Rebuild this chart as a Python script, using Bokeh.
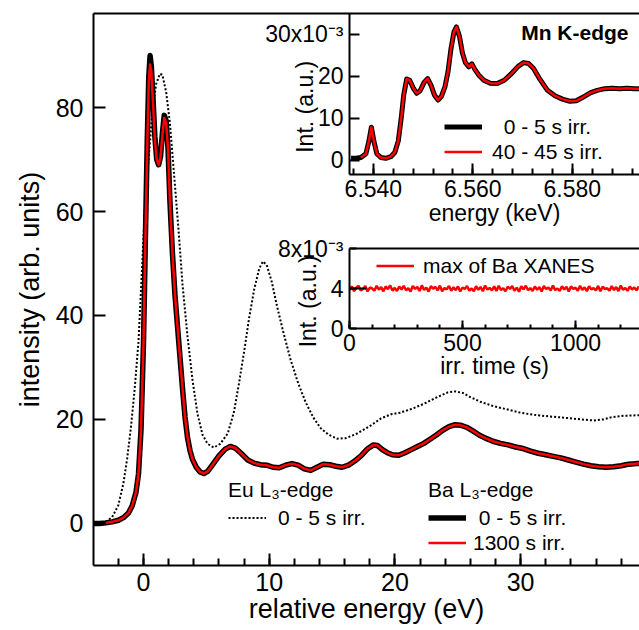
from bokeh.plotting import figure
from bokeh.models import (LinearAxis, SingleIntervalTicker, FixedTicker, Legend,
                          LegendItem, Label, NumeralTickFormatter)
from bokeh.layouts import column
from bokeh.embed import file_html
from bokeh.resources import INLINE

FONT = "Liberation Sans"
RED = "#ff0000"
NBSP = "\u00a0"

# ---- Ba L3-edge XANES (relative energy, eV) ----
ba_energy = [-4.0, -3.5, -3.0, -2.5, -2.0, -1.6, -1.2, -0.9, -0.6, -0.4,
             -0.2, 0.0, 0.15, 0.3, 0.42, 0.52, 0.62, 0.75, 0.9, 1.05,
             1.2, 1.35, 1.5, 1.65, 1.8, 1.95, 2.1, 2.3, 2.5, 2.7,
             2.9, 3.1, 3.3, 3.5, 3.7, 3.9, 4.2, 4.5, 4.8, 5.1,
             5.5, 6.0, 6.5, 6.9, 7.3, 7.8, 8.3, 8.8, 9.3, 9.8,
             10.3, 10.8, 11.3, 11.8, 12.3, 12.8, 13.3, 13.8, 14.3, 14.8,
             15.3, 15.8, 16.3, 16.8, 17.3, 17.8, 18.3, 18.6, 19.0, 19.4,
             19.8, 20.3, 20.8, 21.3, 21.8, 22.3, 22.8, 23.3, 23.8, 24.3,
             24.8, 25.2, 25.7, 26.2, 26.7, 27.2, 27.8, 28.4, 29.0, 29.6,
             30.2, 30.8, 31.4, 32.0, 32.6, 33.2, 33.8, 34.4, 35.0, 35.6,
             36.2, 36.8, 37.4, 38.0, 38.6, 39.2, 39.8]
ba_0_5 = [0.0, 0.0, 0.1, 0.3, 0.6, 1.1, 2.0, 3.4, 6.0, 9.5,
          18.0, 35.0, 55.0, 74.0, 86.0, 90.0, 88.0, 82.0, 74.5, 70.0,
          69.0, 70.5, 75.0, 78.5, 77.5, 72.0, 62.0, 52.0, 44.0, 38.0,
          32.0, 26.0, 20.5, 16.5, 14.0, 12.3, 10.8, 9.9, 9.6, 10.0,
          11.3, 13.0, 14.3, 14.8, 14.5, 13.4, 12.2, 11.6, 11.3, 11.2,
          10.8, 10.7, 11.2, 11.5, 11.2, 10.5, 10.2, 10.8, 11.4, 11.3,
          11.0, 10.8, 11.2, 12.0, 13.0, 14.3, 15.1, 15.0, 14.2, 13.6,
          13.2, 13.1, 13.6, 14.2, 14.8, 15.4, 16.2, 17.0, 17.9, 18.6,
          19.0, 18.9, 18.5, 17.8, 17.0, 16.4, 15.8, 15.4, 15.1, 14.7,
          14.4, 13.9, 13.5, 13.2, 12.9, 12.6, 12.2, 11.8, 11.4, 11.1,
          10.9, 10.8, 10.9, 11.1, 11.4, 11.5, 11.5]
ba_1300_energy = ba_energy[2:]
ba_1300 = [0.1, 0.3, 0.6, 1.1, 2.0, 3.4, 6.0, 9.5,
           18.0, 35.0, 55.0, 73.0, 85.0, 88.3, 87.0, 81.0, 74.0, 70.0,
           69.0, 70.5, 74.5, 78.0, 77.0, 72.0, 62.0, 52.0, 44.0, 38.0,
           32.0, 26.0, 20.5, 16.5, 14.0, 12.3, 10.8, 9.9, 9.6, 10.0,
           11.3, 13.0, 14.3, 14.8, 14.5, 13.4, 12.2, 11.6, 11.3, 11.2,
           10.8, 10.7, 11.2, 11.5, 11.2, 10.5, 10.2, 10.8, 11.4, 11.3,
           11.0, 10.8, 11.2, 12.0, 13.0, 14.3, 15.1, 15.0, 14.2, 13.6,
           13.2, 13.1, 13.6, 14.2, 14.8, 15.4, 16.2, 17.0, 17.9, 18.6,
           19.0, 18.9, 18.5, 17.8, 17.0, 16.4, 15.8, 15.4, 15.1, 14.7,
           14.4, 13.9, 13.5, 13.2, 12.9, 12.6, 12.2, 11.8, 11.4, 11.1,
           10.9, 10.8, 10.9, 11.1, 11.4, 11.5, 11.5]

# ---- Eu L3-edge XANES ----
eu_energy = [-3.0, -2.5, -2.0, -1.6, -1.3, -1.0, -0.7, -0.4, -0.1, 0.1,
             0.4, 0.7, 1.0, 1.3, 1.5, 1.8, 2.1, 2.4, 2.8, 3.1,
             3.5, 3.9, 4.3, 4.7, 5.1, 5.6, 6.1, 6.7, 7.2, 7.6,
             8.0, 8.4, 8.8, 9.2, 9.5, 9.8, 10.2, 10.6, 11.1, 11.7,
             12.3, 12.9, 13.5, 14.1, 14.7, 15.4, 16.1, 17.0, 18.0, 18.9,
             19.7, 20.4, 21.3, 22.3, 23.2, 24.2, 24.8, 25.4, 26.0, 26.8,
             27.8, 28.8, 30.0, 31.0, 32.2, 33.2, 34.4, 35.8, 36.6, 37.2,
             38.2, 39.3, 39.8]
eu_0_5 = [0.3, 1.2, 3.5, 7.7, 12.5, 18.5, 26.0, 35.0, 50.0, 60.0,
          70.0, 79.0, 84.5, 86.5, 86.3, 83.0, 77.0, 68.0, 56.0, 46.0,
          36.0, 27.5, 21.0, 17.0, 15.3, 14.6, 15.3, 17.3, 21.5, 27.0,
          33.0, 39.5, 45.0, 49.0, 50.4, 49.7, 46.5, 42.0, 37.0, 31.5,
          27.0, 23.3, 20.4, 18.3, 17.1, 16.3, 16.4, 17.3, 18.7, 20.2,
          21.0, 21.3, 22.0, 23.0, 24.1, 25.2, 25.4, 25.1, 24.3, 23.4,
          22.6, 22.0, 21.3, 20.9, 20.6, 20.4, 20.1, 19.8, 20.0, 20.4,
          20.7, 20.8, 20.8]

# ---- Mn K-edge XANES (keV, intensity in 1e-3 a.u.) ----
mn_energy = [6.5355, 6.5365, 6.5375, 6.5385, 6.5391, 6.5396, 6.5401, 6.5407, 6.5415, 6.5425,
             6.5435, 6.5443, 6.5450, 6.5456, 6.5461, 6.5467, 6.5473, 6.5480, 6.5487, 6.5494,
             6.5502, 6.5509, 6.5516, 6.5523, 6.5530, 6.5537, 6.5544, 6.5550, 6.5556, 6.5562,
             6.5567, 6.5573, 6.5579, 6.5585, 6.5592, 6.5598, 6.5604, 6.5612, 6.5622, 6.5635,
             6.5649, 6.5663, 6.5677, 6.5690, 6.5702, 6.5712, 6.5722, 6.5735, 6.5750, 6.5765,
             6.5780, 6.5795, 6.5808, 6.5822, 6.5836, 6.5850, 6.5865, 6.5880, 6.5895, 6.5910,
             6.5925, 6.5940]
mn_0_5 = [0.4, 0.4, 0.6, 1.5, 4.5, 7.8, 4.5, 1.5, 0.6, 0.4,
          0.8, 1.8, 4.5, 10.0, 15.5, 19.3, 19.0, 17.2, 15.9, 16.5,
          18.5, 19.4, 17.8, 15.4, 14.3, 15.2, 17.5, 21.0, 26.5, 30.5,
          31.7, 29.5, 25.5, 23.2, 22.2, 22.9, 21.6, 20.2, 19.0, 18.3,
          18.2, 19.0, 20.5, 22.2, 23.2, 23.0, 21.8, 19.2, 16.6, 15.3,
          14.5, 14.0, 14.1, 15.0, 16.0, 16.6, 17.0, 17.1, 17.0, 17.1,
          17.0, 17.0]
mn_40_45_energy = mn_energy[2:]
mn_40_45 = [0.6, 1.5, 4.5, 7.8, 4.5, 1.5, 0.6, 0.4,
            0.8, 1.8, 4.5, 10.0, 15.5, 19.3, 19.0, 17.2, 15.9, 16.5,
            18.5, 19.4, 17.8, 15.4, 14.3, 15.2, 17.5, 21.0, 26.5, 30.5,
            31.7, 29.5, 25.5, 23.2, 22.2, 22.9, 21.6, 20.2, 19.0, 18.3,
            18.2, 19.0, 20.5, 22.2, 23.2, 23.0, 21.8, 19.2, 16.6, 15.3,
            14.5, 14.0, 14.1, 15.0, 16.0, 16.6, 17.0, 17.1, 17.0, 17.1,
            17.0, 17.0]

# ---- maximum of the Ba XANES vs irradiation time (1e-3 a.u.) ----
irr_time = list(range(0, 1290, 10))
ba_max = [3.85, 4.22, 3.74, 4.05, 4.28, 3.80, 3.95, 4.25, 3.70, 4.10,
          4.00, 3.78, 4.26, 3.88, 4.14, 3.72, 4.21, 3.93, 4.30, 3.79,
          4.06, 3.75, 4.19, 3.90, 4.27, 3.82, 4.02, 3.71, 4.24, 3.96,
          4.15, 3.76, 4.31, 3.86, 4.09, 3.69, 4.23, 3.98, 4.17, 3.81,
          4.29, 3.73, 4.04, 3.92, 4.26, 3.77, 4.12, 3.84, 4.20, 3.70,
          4.10, 3.94, 4.25, 3.79, 4.00, 3.74, 4.22, 3.87, 4.16, 3.72,
          4.30, 3.89, 4.06, 3.80, 4.21, 3.76, 4.27, 3.86, 4.02, 3.73,
          4.18, 3.96, 4.24, 3.78, 4.08, 3.68, 4.22, 3.92, 4.28, 3.83,
          4.04, 3.75, 4.20, 3.88, 4.14, 3.71, 4.25, 3.94, 4.10, 3.79,
          4.30, 3.84, 4.00, 3.76, 4.23, 3.90, 4.16, 3.70, 4.21, 3.97,
          4.08, 3.77, 4.27, 3.86, 4.12, 3.74, 4.22, 3.92, 4.04, 3.80,
          4.26, 3.72, 4.18, 3.95, 4.02, 3.78, 4.24, 3.84, 4.14, 3.75,
          4.29, 3.88, 4.06, 3.77, 4.20, 3.90, 4.10, 3.82, 4.22]
ba_max_first_time = [0, 25, 50, 75]
ba_max_first = [4.0, 4.0, 4.0, 4.0]

main_xticks = 10
main_yticks = 20


def style_axis(ax, tick_size, major_in, minor_in, standoff):
    ax.axis_line_width = 2
    ax.axis_line_color = "black"
    ax.major_tick_line_width = 2
    ax.minor_tick_line_width = 2
    ax.major_tick_in = major_in
    ax.major_tick_out = 0
    ax.minor_tick_in = minor_in
    ax.minor_tick_out = 0
    ax.major_label_text_font = FONT
    ax.major_label_text_font_size = tick_size
    ax.major_label_text_color = "black"
    ax.major_label_standoff = standoff
    ax.axis_label_text_font = FONT
    ax.axis_label_text_font_style = "normal"
    ax.axis_label_text_color = "black"


def top_line(fig):
    ax = LinearAxis(ticker=FixedTicker(ticks=[]), axis_line_width=2,
                    major_tick_line_color=None, minor_tick_line_color=None)
    fig.add_layout(ax, "above")


def legend(items, x, y, standoff, title=None, size="21px"):
    kw = dict(items=items, location=(x, y), orientation="vertical",
              border_line_color=None, background_fill_alpha=0,
              padding=0, margin=0, spacing=0,
              glyph_width=38, glyph_height=25, label_height=25, label_width=10,
              label_standoff=standoff, label_text_font=FONT,
              label_text_font_size=size, label_text_color="black")
    if title is not None:
        kw.update(title=title, title_text_font=FONT, title_text_font_size=size,
                  title_text_font_style="normal", title_text_color="black",
                  title_standoff=3)
    return Legend(**kw)


BORDER_LEFT = 93

# ================= main panel =================
p = figure(width=639, height=630, x_range=(-3.98, 39.46), y_range=(-8.1, 98.1),
           output_backend="svg", toolbar_location=None,
           min_border_left=BORDER_LEFT, min_border_right=0, min_border_top=13,
           min_border_bottom=65)
p.outline_line_color = None
p.grid.visible = False
p.background_fill_color = "white"
p.border_fill_color = "white"

p.xaxis.ticker = SingleIntervalTicker(interval=main_xticks, num_minor_ticks=5)
p.yaxis.ticker = SingleIntervalTicker(interval=main_yticks, num_minor_ticks=0)
style_axis(p.xaxis[0], "25px", 12, 7, 7)
style_axis(p.yaxis[0], "25px", 12, 0, 10)
p.yaxis.minor_tick_line_color = None
p.xaxis.axis_label = "relative energy (eV)"
p.yaxis.axis_label = "intensity (arb. units)"
p.xaxis.axis_label_text_font_size = "27px"
p.yaxis.axis_label_text_font_size = "27px"
p.xaxis.axis_label_standoff = 0
p.yaxis.axis_label_standoff = 8
top_line(p)

r_ba0 = p.line(ba_energy, ba_0_5, line_color="black", line_width=5.5, line_join="round")
r_eu = p.line(eu_energy, eu_0_5, line_color="black", line_width=2, line_dash="2 2")
r_ba1 = p.line(ba_1300_energy, ba_1300, line_color=RED, line_width=2.5, line_join="round")

p.add_layout(legend([LegendItem(label="0 - 5 s irr.", renderers=[r_eu])],
                    135, 35, 12, title="Eu L\u2083-edge"))
p.add_layout(legend([LegendItem(label=NBSP + "0 - 5 s irr.", renderers=[r_ba0]),
                     LegendItem(label="1300 s irr.", renderers=[r_ba1])],
                    335, 10, 7, title="Ba L\u2083-edge"))

# ================= Mn K-edge inset =================
mn = figure(width=639 - 256, height=234, x_range=(6.5352, 6.5935), y_range=(-3.45, 34.9),
            output_backend="svg", toolbar_location=None,
            min_border_left=BORDER_LEFT, min_border_right=0, min_border_top=13,
            min_border_bottom=60)
mn.outline_line_color = None
mn.grid.visible = False
mn.background_fill_color = None
mn.border_fill_color = None
mn.xaxis.ticker = SingleIntervalTicker(interval=0.02, num_minor_ticks=5)
mn.yaxis.ticker = SingleIntervalTicker(interval=10, num_minor_ticks=0)
mn.xaxis.formatter = NumeralTickFormatter(format="0.000")
mn.yaxis.major_label_overrides = {30: "30x10\u207b\u00b3"}
style_axis(mn.xaxis[0], "23px", 11, 6, 5)
style_axis(mn.yaxis[0], "23px", 10, 0, 6)
mn.yaxis.minor_tick_line_color = None
mn.xaxis.axis_label = "energy (keV)"
mn.xaxis.axis_label_text_font_size = "23px"
mn.xaxis.axis_label_standoff = 0
mn.yaxis.axis_label = "Int. (a.u.)" + NBSP * 4
mn.yaxis.axis_label_text_font_size = "23px"
mn.yaxis.axis_label_standoff = -56

m0 = mn.line(mn_energy, mn_0_5, line_color="black", line_width=5, line_join="round")
m1 = mn.line(mn_40_45_energy, mn_40_45, line_color=RED, line_width=2.5, line_join="round")
mn.add_layout(legend([LegendItem(label=NBSP * 2 + "0 - 5 s irr.", renderers=[m0]),
                      LegendItem(label="40 - 45 s irr.", renderers=[m1])],
                     95, 10, 10))
mn.add_layout(Label(x=279, y=142, x_units="screen", y_units="screen", text="Mn K-edge",
                    text_align="right", text_baseline="middle", text_font=FONT,
                    text_font_size="21px", text_font_style="bold", text_color="black"))
mn.styles = {"position": "absolute", "left": "256px", "top": "0px"}

# ================= Ba maximum vs time inset =================
tm = figure(width=639 - 256, height=160, x_range=(0, 1283), y_range=(0, 8),
            output_backend="svg", toolbar_location=None,
            min_border_left=BORDER_LEFT, min_border_right=0, min_border_top=20,
            min_border_bottom=60)
tm.outline_line_color = None
tm.grid.visible = False
tm.background_fill_color = None
tm.border_fill_color = None
tm.xaxis.ticker = SingleIntervalTicker(interval=500, num_minor_ticks=5)
tm.yaxis.ticker = FixedTicker(ticks=[0, 4, 8])
tm.yaxis.major_label_overrides = {8: "8x10\u207b\u00b3"}
style_axis(tm.xaxis[0], "23px", 8, 4, 5)
style_axis(tm.yaxis[0], "23px", 7, 0, 6)
tm.yaxis.minor_tick_line_color = None
tm.xaxis.axis_label = "irr. time (s)"
tm.xaxis.axis_label_text_font_size = "23px"
tm.xaxis.axis_label_standoff = -1
tm.yaxis.axis_label = "Int. (a.u.)" + NBSP * 4
tm.yaxis.axis_label_text_font_size = "23px"
tm.yaxis.axis_label_standoff = -46
top_line(tm)

t1 = tm.line(irr_time, ba_max, line_color=RED, line_width=2.5)
tm.line(ba_max_first_time, ba_max_first, line_color="black", line_width=2)
tm.add_layout(legend([LegendItem(label="max of Ba XANES", renderers=[t1])], 27, 50, 9))
tm.styles = {"position": "absolute", "left": "256px", "top": "228px"}

root = column(p, mn, tm, styles={"position": "relative"})

open("out.html", "w").write(file_html(root, INLINE))
